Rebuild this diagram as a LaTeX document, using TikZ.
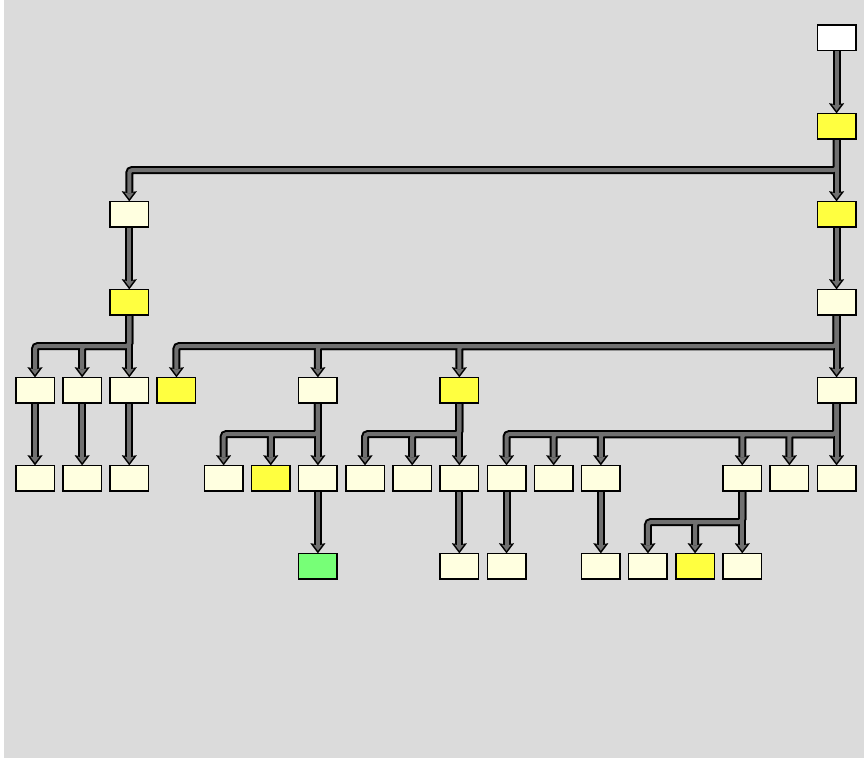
\documentclass[tikz,border=0pt]{standalone}
\usetikzlibrary{arrows.meta}
\pgfdeclarelayer{back}
\pgfdeclarelayer{edges}
\pgfsetlayers{back,edges,main}
\definecolor{bgc}{HTML}{DBDBDB}
\definecolor{lyel}{HTML}{FFFFE0}
\definecolor{yel}{HTML}{FFFF40}
\definecolor{grn}{HTML}{77FF77}
\definecolor{pipe}{HTML}{707070}
\tikzset{
  box/.style={draw=black, line width=1.5pt, minimum width=38.5pt, minimum height=25.5pt, inner sep=0pt, outer sep=0pt},
  pipeo/.style={line width=8pt, black, rounded corners=3pt, -{Stealth[length=10pt,width=15pt,inset=1.5pt,line width=0.1pt]}},
  pipei/.style={line width=4pt, pipe, rounded corners=3pt, shorten >=2.6pt, -{Stealth[length=6pt,width=9pt,inset=1pt,line width=0.1pt]}}
}
\begin{document}
\begin{tikzpicture}[x=1pt,y=-1pt]
\useasboundingbox (0,0) rectangle (864,760);
\begin{pgfonlayer}{back}
\fill[white] (0,0) rectangle (864,760);
\fill[bgc] (4,0) rectangle (864,758);
\end{pgfonlayer}
\foreach \c/\r/\col in {17/0/white, 17/1/yel, 2/2/lyel, 17/2/yel, 2/3/yel, 17/3/lyel,
  0/4/lyel, 1/4/lyel, 2/4/lyel, 3/4/yel, 6/4/lyel, 9/4/yel, 17/4/lyel,
  0/5/lyel, 1/5/lyel, 2/5/lyel, 4/5/lyel, 5/5/yel, 6/5/lyel, 7/5/lyel, 8/5/lyel, 9/5/lyel,
  10/5/lyel, 11/5/lyel, 12/5/lyel, 15/5/lyel, 16/5/lyel, 17/5/lyel,
  6/6/grn, 9/6/lyel, 10/6/lyel, 12/6/lyel, 13/6/lyel, 14/6/yel, 15/6/lyel}
  \node[box, fill=\col] (n\c-\r) at ({35+47.15*\c},{38+88*\r}) {};
\begin{pgfonlayer}{edges}
\foreach \a/\b [evaluate=\b as \rr using int(\b+1)] in {17/0, 17/1, 2/2, 17/2, 2/3, 17/3, 0/4, 1/4, 2/4, 6/4, 9/4, 17/4, 6/5, 9/5, 10/5, 12/5, 15/5}
  \draw[pipeo] (n\a-\b.south) -- (n\a-\rr.north);
\foreach \a/\b/\cc [evaluate=\b as \rr using int(\b+1)] in {17/1/2, 2/3/0, 2/3/1, 17/3/3, 17/3/6, 17/3/9, 6/4/4, 6/4/5, 9/4/7, 9/4/8, 17/4/10, 17/4/11, 17/4/12, 17/4/15, 17/4/16, 15/5/13, 15/5/14}
  \draw[pipeo] (n\a-\b.south) -- ([yshift=-44pt]n\a-\b.center) -| (n\cc-\rr.north);
\foreach \a/\b [evaluate=\b as \rr using int(\b+1)] in {17/0, 17/1, 2/2, 17/2, 2/3, 17/3, 0/4, 1/4, 2/4, 6/4, 9/4, 17/4, 6/5, 9/5, 10/5, 12/5, 15/5}
  \draw[pipei] (n\a-\b.south) -- (n\a-\rr.north);
\foreach \a/\b/\cc [evaluate=\b as \rr using int(\b+1)] in {17/1/2, 2/3/0, 2/3/1, 17/3/3, 17/3/6, 17/3/9, 6/4/4, 6/4/5, 9/4/7, 9/4/8, 17/4/10, 17/4/11, 17/4/12, 17/4/15, 17/4/16, 15/5/13, 15/5/14}
  \draw[pipei] (n\a-\b.south) -- ([yshift=-44pt]n\a-\b.center) -| (n\cc-\rr.north);
\end{pgfonlayer}
\end{tikzpicture}
\end{document}
